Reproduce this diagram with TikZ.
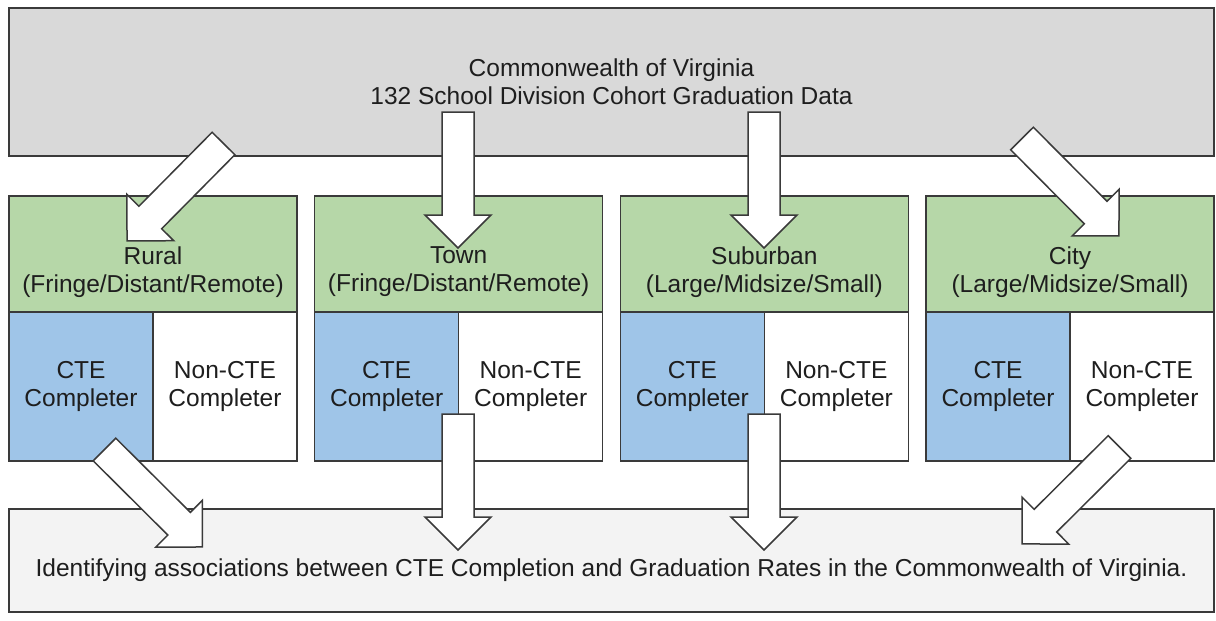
\documentclass[tikz,border=0pt]{standalone}
\usepackage{fontspec}
\setmainfont{Liberation Sans}
\usepackage{xcolor}
\usetikzlibrary{calc,positioning}
\definecolor{topgray}{HTML}{D9D9D9}
\definecolor{areagreen}{HTML}{B6D7A8}
\definecolor{cteblue}{HTML}{9FC5E8}
\definecolor{goalgray}{HTML}{F3F3F3}
\definecolor{linegray}{HTML}{3A3A3A}
\definecolor{ink}{HTML}{1E1E1E}
\tikzset{%
	cell/.style     = {draw=linegray, line width=0.75pt, rectangle, inner sep=0pt, outer sep=0pt, anchor=north west},
	topbox/.style   = {cell, fill=topgray, minimum width=602.5pt, minimum height=74pt},
	areabox/.style  = {cell, fill=areagreen, minimum width=144pt, minimum height=58pt},
	ctebox/.style   = {cell, fill=cteblue, minimum width=72pt, minimum height=74.5pt},
	nonbox/.style   = {cell, fill=white, minimum width=72pt, minimum height=74.5pt},
	goalbox/.style  = {cell, fill=goalgray, minimum width=602.5pt, minimum height=51.5pt},
	txt/.style      = {align=center, text=ink, font=\fontsize{12.25}{14}\selectfont},
	barrow/.style   = {draw=linegray, fill=white, line width=0.75pt, line join=miter},
}
\newcommand{\blockarrow}[2]{%
	\draw[barrow] let \p1=($(#2)-(#1)$), \n1={atan2(\y1,\x1)}, \n2={veclen(\x1,\y1)} in
		[shift={(#1)}, rotate=\n1]
		(0pt,-8pt) -- ({\n2*1pt-16.5pt},-8pt) -- ({\n2*1pt-16.5pt},-16.5pt) -- ({\n2*1pt},0pt)
		-- ({\n2*1pt-16.5pt},16.5pt) -- ({\n2*1pt-16.5pt},8pt) -- (0pt,8pt) -- cycle;}

\begin{document}
\begin{tikzpicture}[x=0.5pt,y=-0.5pt]
	\useasboundingbox (0,0) rectangle (1216,621);
	
	\node[topbox, txt] (top) at (9,8) {Commonwealth of Virginia\\132 School Division Cohort Graduation Data};
	
	\foreach \area/\name/\sub [count=\i from 0] in {rur/Rural/{(Fringe/Distant/Remote)}, twn/Town/{(Fringe/Distant/Remote)}, sbu/Suburban/{(Large/Midsize/Small)}, cty/City/{(Large/Midsize/Small)}} {
		\node[areabox] (\area) at ({9+305.67*\i},196) {};
		\node[txt] (\area-t) at ($(\area.center)+(0,18)$) {\name\\\sub};
		\node[ctebox, txt, anchor=north west] (\area-c) at (\area.south west) {CTE\\Completer};
		\node[nonbox, txt, anchor=north west] (\area-n) at (\area-c.north east) {Non-CTE\\Completer};
	}
	
	\node[goalbox] (goal) at (9,509) {};
	\node[txt] (goal-t) at ($(goal.center)+(0,10)$) {Identifying associations between CTE Completion and Graduation Rates in the Commonwealth of Virginia.};
	
	% arrows from the state data down to the locales
	\coordinate (rur-from) at (223.5,143.5); \coordinate (rur-tip) at (127,241);
	\coordinate (twn-from) at (458,112);     \coordinate (twn-tip) at (458,248);
	\coordinate (sbu-from) at (764,112);     \coordinate (sbu-tip) at (764,248);
	\coordinate (cty-from) at (1022,138.5);  \coordinate (cty-tip) at (1119,236);
	% arrows from the locales down to the study
	\coordinate (rur-out) at (104.5,449.5);  \coordinate (rur-goal) at (202.5,547);
	\coordinate (twn-out) at (458,414);      \coordinate (twn-goal) at (458,550);
	\coordinate (sbu-out) at (764,414);      \coordinate (sbu-goal) at (764,550);
	\coordinate (cty-out) at (1119.5,447);   \coordinate (cty-goal) at (1022,544);
	
	\foreach \area in {rur,twn,sbu,cty} {
		\blockarrow{\area-from}{\area-tip}
		\blockarrow{\area-out}{\area-goal}
	}
\end{tikzpicture}
\end{document}
